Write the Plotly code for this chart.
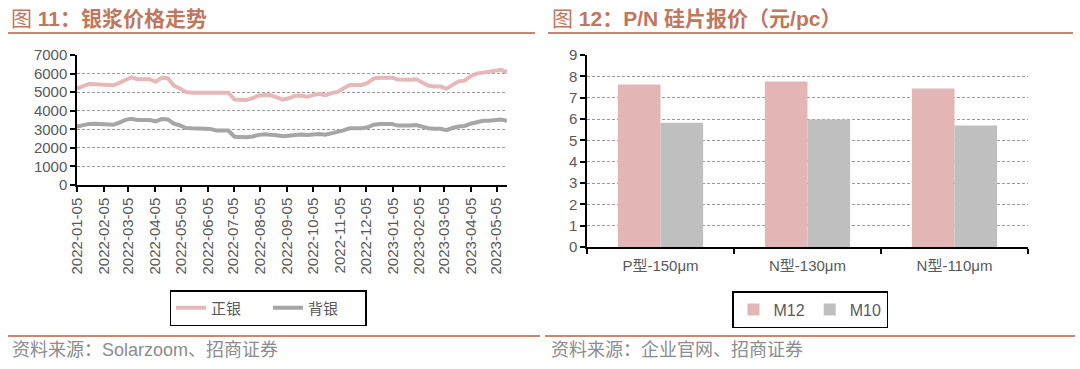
import plotly.graph_objects as go
import pandas as pd

# ---- data ----
dates = pd.date_range("2022-01-05", periods=72, freq="7D")
front_silver = [5200, 5320, 5440, 5430, 5400, 5370, 5370, 5500, 5680, 5800, 5700, 5700,
                5700, 5560, 5780, 5750, 5350, 5200, 5000, 4970, 4970, 4970, 4970, 4970,
                4970, 4970, 4600, 4580, 4580, 4680, 4820, 4850, 4830, 4720, 4600, 4670,
                4810, 4820, 4760, 4840, 4910, 4830, 4950, 5010, 5220, 5390, 5390, 5390,
                5500, 5740, 5780, 5780, 5780, 5680, 5660, 5670, 5690, 5510, 5360, 5300,
                5300, 5190, 5400, 5580, 5620, 5860, 6000, 6050, 6050, 6100, 6200, 6070]
back_silver = [3150, 3220, 3290, 3300, 3290, 3250, 3240, 3360, 3510, 3570, 3500, 3500,
               3500, 3430, 3550, 3530, 3300, 3210, 3070, 3050, 3050, 3050, 3020, 2940,
               2930, 2930, 2600, 2570, 2570, 2610, 2700, 2730, 2730, 2680, 2620, 2640,
               2710, 2720, 2690, 2720, 2750, 2710, 2790, 2830, 2940, 3050, 3050, 3050,
               3110, 3250, 3280, 3280, 3280, 3200, 3190, 3210, 3230, 3130, 3060, 3030,
               3030, 2950, 3080, 3150, 3180, 3300, 3400, 3460, 3460, 3490, 3530, 3450]
wafer_types = ["P型-150μm", "N型-130μm", "N型-110μm"]
m12 = [7.62, 7.76, 7.43]
m10 = [5.82, 5.98, 5.70]

W, H = 1080, 369
def px(x): return x / W
def py(y): return 1 - y / H

TXT = "#595959"
ACC = "#c0775c"
FONT = "Liberation Sans, Arial, Noto Sans CJK SC"

fig = go.Figure()
fig.add_trace(go.Scatter(x=dates, y=front_silver, name="正银", mode="lines",
                         line=dict(color="#e6b9b8", width=4), xaxis="x", yaxis="y", legend="legend"))
fig.add_trace(go.Scatter(x=dates, y=back_silver, name="背银", mode="lines",
                         line=dict(color="#a6a6a6", width=4), xaxis="x", yaxis="y", legend="legend"))
fig.add_trace(go.Bar(x=wafer_types, y=m12, name="M12", marker=dict(color="#e3b6b5", line=dict(width=0)),
                     xaxis="x2", yaxis="y2", legend="legend2"))
fig.add_trace(go.Bar(x=wafer_types, y=m10, name="M10", marker=dict(color="#bfbfbf", line=dict(width=0)),
                     xaxis="x2", yaxis="y2", legend="legend2"))

axis_common = dict(showline=True, linecolor="black", linewidth=1.5, ticks="outside",
                   ticklen=5, tickcolor="black", tickwidth=1.5, zeroline=False,
                   automargin=False)
grid = dict(showgrid=True, gridcolor="#9a9a9a", griddash="3px,2px", gridwidth=1)

fig.update_layout(
    width=W, height=H, margin=dict(l=0, r=0, t=0, b=0, autoexpand=False),
    paper_bgcolor="white", plot_bgcolor="white",
    font=dict(family=FONT, color=TXT),
    barmode="group", bargap=0.42, bargroupgap=0,
    xaxis=dict(domain=[px(77), px(507)], anchor="y", type="date",
               range=["2022-01-05", "2023-05-17"], tickformat="%Y-%m-%d",
               dtick="M1", tick0="2022-01-05", tickangle=-90, showgrid=False,
               tickfont=dict(size=15, color=TXT), **axis_common),
    yaxis=dict(domain=[py(185), py(55)], anchor="x", range=[0, 7000], dtick=1000,
               tickfont=dict(size=15, color=TXT), **grid, **axis_common),
    xaxis2=dict(domain=[px(587), px(1028)], anchor="y2", tickson="boundaries",
                showgrid=False, ticklabelstandoff=4,
                tickfont=dict(size=15, color=TXT), **axis_common),
    yaxis2=dict(domain=[py(247), py(55)], anchor="x2", range=[0, 9], dtick=1,
                tickfont=dict(size=15, color=TXT), **grid, **axis_common),
    legend=dict(orientation="h", x=px(268), xanchor="center", y=py(290), yanchor="top",
                bordercolor="black", borderwidth=1.5, bgcolor="white", entrywidth=52,
                font=dict(size=15, family="Noto Sans CJK SC", color=TXT)),
    legend2=dict(orientation="h", x=px(810), xanchor="center", y=py(291), yanchor="top",
                 bordercolor="black", borderwidth=1.5, bgcolor="white", itemwidth=30,
                 font=dict(size=16, family=FONT, color=TXT)),
    showlegend=True,
)

shapes = []
for x0, x1, y in [(8, 535, 33), (548, 1073, 33), (8, 540, 336), (545, 1075, 336)]:
    shapes.append(dict(type="line", xref="paper", yref="paper", x0=px(x0), x1=px(x1),
                       y0=py(y), y1=py(y), line=dict(color="#c8866c", width=2)))
fig.update_layout(shapes=shapes)

ann = [
    dict(text="图 <b>11：银浆价格走势</b>", x=px(9), y=py(18), font=dict(size=21, color=ACC)),
    dict(text="图 <b>12：P/N 硅片报价（元/pc）</b>", x=px(550), y=py(18), font=dict(size=21, color=ACC)),
    dict(text="资料来源：Solarzoom、招商证券", x=px(10), y=py(350), font=dict(size=18, color="#8c8c8c")),
    dict(text="资料来源：企业官网、招商证券", x=px(549), y=py(350), font=dict(size=18, color="#8c8c8c")),
]
for a in ann:
    a.update(xref="paper", yref="paper", xanchor="left", yanchor="middle", showarrow=False)
    a["font"]["family"] = FONT
fig.update_layout(annotations=ann)

fig.write_html("out.html", config={"displayModeBar": False},
               post_script="document.body.style.margin='0';")
